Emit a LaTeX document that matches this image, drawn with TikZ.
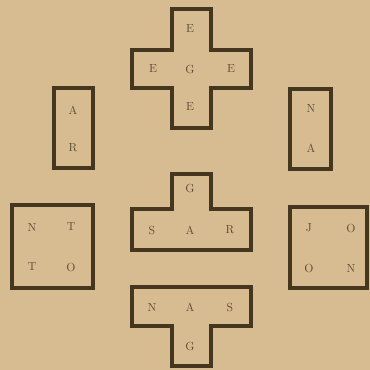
\documentclass[tikz,border=0pt]{standalone}
\usepackage{tikz}
\definecolor{paper}{HTML}{D7BC91}
\definecolor{ink}{HTML}{45361F}
\definecolor{letterink}{HTML}{5E4E39}

\begin{document}
\begin{tikzpicture}[x=0.03cm, y=-0.03cm,
  wall/.style={draw=ink, line width=3.6pt, line join=miter},
  letter/.style={text=letterink, font=\normalsize, inner sep=0pt}]
  \fill[paper] (0,0) rectangle (370,370);
  \useasboundingbox (0,0) rectangle (370,370);
  % top cross
  \draw[wall] (172,9) -- (211,9) -- (211,50) -- (251,50) -- (251,88) -- (211,88)
    -- (211,128) -- (172,128) -- (172,88) -- (132,88) -- (132,50) -- (172,50) -- cycle;
  \node[letter] (crossN) at (190,29) {E};
  \node[letter] (crossW) at (153,69) {E};
  \node[letter] (crossC) at (190,69) {G};
  \node[letter] (crossE) at (231,69) {E};
  \node[letter] (crossS) at (190,107) {E};
  % tall boxes
  \draw[wall] (54,88) rectangle (93,168);
  \node[letter] (leftA) at (73,110) {A};
  \node[letter] (leftR) at (73,148) {R};
  \draw[wall] (290,89) rectangle (331,169);
  \node[letter] (rightN) at (311,108) {N};
  \node[letter] (rightA) at (311,148) {A};
  % middle T
  \draw[wall] (172,174) -- (211,174) -- (211,209) -- (251,209) -- (251,250)
    -- (132,250) -- (132,209) -- (172,209) -- cycle;
  \node[letter] (midG) at (190,188) {G};
  \node[letter] (midS) at (152,230) {S};
  \node[letter] (midA) at (190,230) {A};
  \node[letter] (midR) at (230,230) {R};
  % squares
  \draw[wall] (12,205) rectangle (93,288);
  \node[letter] (sqlN) at (32,227) {N};
  \node[letter] (sqlT) at (71,227) {T};
  \node[letter] (sqlT2) at (32,267) {T};
  \node[letter] (sqlO) at (71,267) {O};
  \draw[wall] (290,207) rectangle (367,288);
  \node[letter] (sqrJ) at (309,228) {J};
  \node[letter] (sqrO) at (351,228) {O};
  \node[letter] (sqrO2) at (309,268) {O};
  \node[letter] (sqrN) at (351,268) {N};
  % bottom T
  \draw[wall] (132,287) -- (251,287) -- (251,326) -- (211,326) -- (211,366)
    -- (172,366) -- (172,326) -- (132,326) -- cycle;
  \node[letter] (botN) at (152,307) {N};
  \node[letter] (botA) at (190,307) {A};
  \node[letter] (botS) at (230,307) {S};
  \node[letter] (botG) at (190,346) {G};
\end{tikzpicture}
\end{document}
